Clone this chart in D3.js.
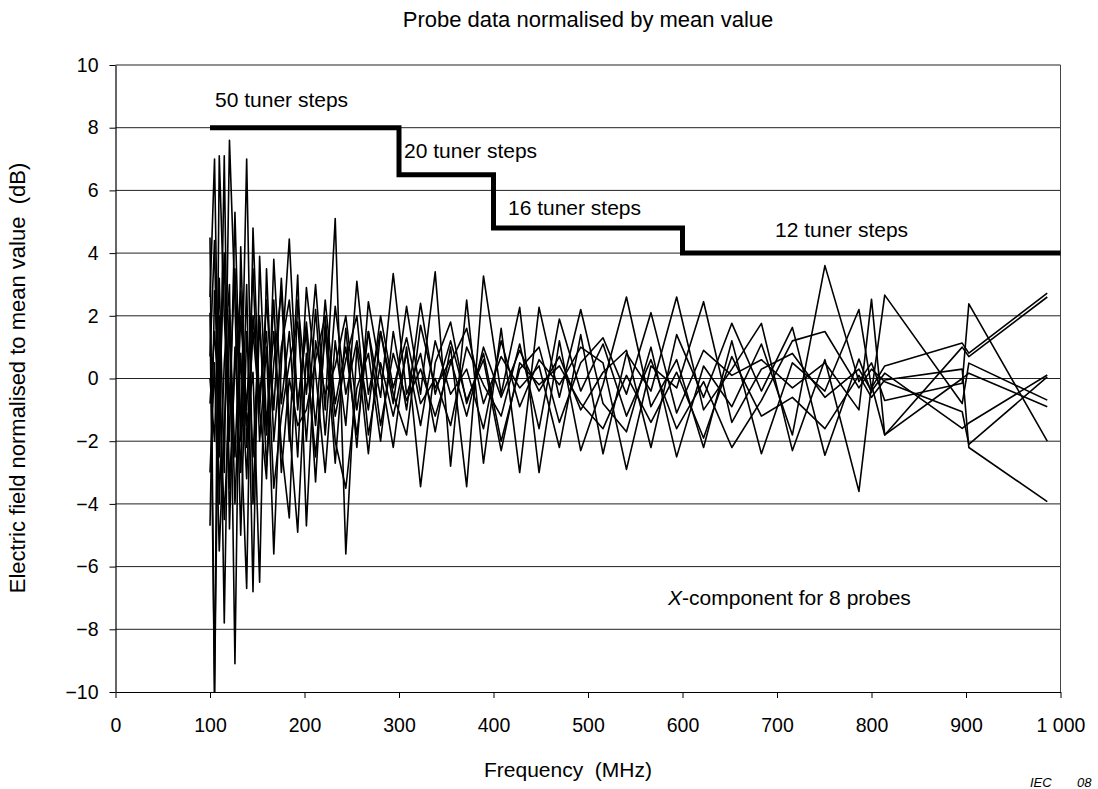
<!DOCTYPE html>
<html>
<head>
<meta charset="utf-8">
<script src="https://cdn.jsdelivr.net/npm/d3@7"></script>
<style>
  body { margin: 0; background: #fff; }
  svg { display: block; }
  text { font-family: "Liberation Sans", Arial, sans-serif; fill: #000; }
</style>
</head>
<body>
<svg id="chart" width="1098" height="789"></svg>
<script>
// Measurement frequencies (MHz), log-spaced above 100 MHz
const frequencies = [
  100, 104.8, 109.8, 115.1, 120.6, 126.4, 132.5, 138.8, 145.5, 152.5,
  159.8, 167.5, 175.5, 183.9, 192.8, 202, 211.7, 221.9, 232.5, 243.7,
  255.4, 267.6, 280.5, 293.9, 308, 322.8, 338.3, 354.6, 371.6, 389.4,
  408.1, 427.7, 448.2, 469.7, 492.3, 515.9, 540.7, 566.6, 593.8, 622.3,
  652.2, 683.5, 716.3, 750.7, 786.7, 800, 814, 896, 903, 986
];

// X-component of the field at each probe, normalised to the mean (dB)
const probe1 = [
  4.5, -10, 2.0, -7.8, 2.0, -2.5, 2.0, -1.0, 3.5, -2.0,
  1.0, -5.6, 0.5, 4.45, -1.0, 1.8, -1.5, 2.5, -0.8, 1.0,
  -1.8, 1.5, -0.6, 3.35, -0.5, 0.8, -1.7, 1.0, -3.45, 3.27,
  -0.5, 2.27, -3.0, 1.2, -2.3, -0.2, 2.6, -0.9, 0.6, -2.2,
  1.2, -2.4, 0.5, -0.4, 2.2, -0.3, 0.4, 1.13, 0.81, 2.72
];
const probe2 = [
  2.6, 7.0, -2.5, 7.1, -4.8, 1.0, -3.0, 3.0, -6.8, 3.9,
  -1.5, 1.5, -2.2, -4.45, 2.5, -0.5, 3.0, -1.0, 5.1, -5.6,
  1.0, -2.4, 1.5, -0.8, 2.3, -0.5, 3.4, -2.8, 2.5, -2.7,
  1.6, -3.0, 2.27, -0.6, 2.2, -0.8, -1.7, 1.0, -2.5, 0.4,
  -0.9, 1.1, -1.8, 3.6, -0.1, 0.5, -0.7, -0.15, 2.38, -2.0
];
const probe3 = [
  2.1, -10, 7.1, 2.0, -2.0, 5.3, -1.5, -6.7, 4.8, -1.0,
  2.5, -1.0, 3.2, -1.5, -4.9, 0.8, -2.5, 1.5, -2.7, 1.6,
  -2.2, 2.45, 0.2, -2.2, 1.0, -3.45, 0.5, 1.8, -0.8, 0.8,
  -2.0, 0.3, 1.0, -1.4, 0.5, 1.3, -0.5, 2.1, -1.1, 0.9,
  0.1, 0.6, -0.3, 0.5, -1.0, 2.53, -1.8, 1.0, 0.7, 2.6
];
const probe4 = [
  0.7, 4.4, -4.0, 0.5, 3.0, -9.1, 4.2, -2.2, 1.5, -1.0,
  -3.2, 3.8, -0.8, 1.5, -2.5, 2.9, 0.2, -3.0, 1.2, -1.5,
  3.1, -0.5, 1.5, -0.5, -1.8, 1.7, -0.3, 0.6, -1.2, 1.0,
  -0.6, 0.9, -0.4, 0.7, -1.0, 0.2, 0.9, -2.2, 1.4, -0.6,
  1.76, -0.4, 1.63, -2.45, 0.62, -0.45, 2.66, -0.8, 0.49, -0.69
];
const probe5 = [
  0.0, -2.0, 3.2, -3.0, 7.6, 2.5, -5.0, 1.5, -2.5, 2.0,
  -2.8, 0.5, 2.8, -2.0, 3.3, -4.7, 1.2, -0.5, 0.4, 2.0,
  -1.0, 1.5, -1.5, 0.8, -0.7, 0.3, -1.2, 0.5, 1.6, -0.8,
  0.7, -0.3, 0.4, -2.2, 1.4, -2.4, 0.8, -0.4, 2.6, -1.0,
  0.3, 1.76, -2.3, 0.6, -3.6, -0.2, -1.8, 0.0, 0.17, -0.9
];
const probe6 = [
  -0.8, 1.5, -1.0, 4.0, -3.5, 0.5, 2.8, -1.5, 0.2, -6.5,
  3.5, -2.0, 1.0, 2.5, -0.8, 1.5, -3.3, 1.8, -1.2, 0.6,
  2.0, -1.8, 0.5, -1.2, 0.8, -1.5, 1.2, -0.5, 0.3, -1.6,
  1.2, -0.9, 0.6, -0.2, 1.0, 0.5, -2.9, 0.4, -0.3, 2.45,
  -1.4, 0.3, 0.8, -0.6, 0.3, -0.4, 0.17, -1.59, -1.42, 0.11
];
const probe7 = [
  -3.0, 0.5, -5.5, -1.5, 2.2, -4.0, 0.8, -3.2, 2.0, -0.5,
  1.5, -3.5, -1.2, 0.5, 1.8, -2.0, 2.2, -1.8, 2.3, -0.5,
  1.2, -1.0, 2.0, -0.3, 1.3, -0.8, 0.0, -1.5, 1.0, -0.2,
  -1.2, 1.1, -1.6, 1.9, -0.4, 1.1, -1.2, 0.6, -1.6, -0.1,
  -2.2, -0.7, 1.2, 1.5, -0.3, 0.3, -0.1, -1.06, -2.1, 0.05
];
const probe8 = [
  -4.7, 2.8, 0.0, -4.5, -0.5, 3.5, -2.0, 7.0, -4.0, 1.8,
  -1.8, 2.5, -3.0, 0.0, -1.5, -1.0, 0.6, 2.0, -2.0, -3.5,
  -0.3, 0.8, -2.0, 1.5, -1.0, 2.4, -0.5, 1.2, -0.7, 0.6,
  -2.3, 0.5, -0.2, 0.4, -0.8, -1.6, 0.1, -1.4, 0.2, -1.9,
  0.7, -1.2, -0.6, -1.6, 0.1, -0.6, -0.05, 0.3, -2.2, -3.93
];

// Tuner-step limit: level applies from each frequency up to the next
const stepFreq = [100, 300, 400, 600, 1000];
const stepLevel = [8, 6.5, 4.8, 4, 4];
const stepLabels = ["50 tuner steps", "20 tuner steps", "16 tuner steps", "12 tuner steps"];

// Axis ticks
const xTicks = [0, 100, 200, 300, 400, 500, 600, 700, 800, 900, 1000];
const xTickLabels = ["0", "100", "200", "300", "400", "500", "600", "700", "800", "900", "1 000"];
const yTicks = [-10, -8, -6, -4, -2, 0, 2, 4, 6, 8, 10];
const yTickLabels = ["\u221210", "\u22128", "\u22126", "\u22124", "\u22122", "0", "2", "4", "6", "8", "10"];

const probes = [probe1, probe2, probe3, probe4, probe5, probe6, probe7, probe8];

const svg = d3.select("#chart");
svg.append("rect").attr("width", 1098).attr("height", 789).attr("fill", "#fff");

const x = d3.scaleLinear().domain([0, 1000]).range([115.5, 1060.5]);
const y = d3.scaleLinear().domain([-10, 10]).range([692, 65]);

const tickFont = 19.5;
const labelFont = 21;
const titleFont = 22;

// Horizontal gridlines
svg.append("g")
  .selectAll("line")
  .data(yTicks.filter(v => v > -10))
  .join("line")
  .attr("x1", x(0)).attr("x2", x(1000))
  .attr("y1", d => y(d)).attr("y2", d => y(d))
  .attr("stroke", "#222").attr("stroke-width", 1);

// Right border of the plot area
svg.append("line")
  .attr("x1", x(1000)).attr("x2", x(1000))
  .attr("y1", y(10)).attr("y2", y(-10))
  .attr("stroke", "#444").attr("stroke-width", 1);

// Axes
const xAxis = d3.axisBottom(x)
  .tickValues(xTicks)
  .tickFormat((d, i) => xTickLabels[i])
  .tickSize(6).tickSizeOuter(0).tickPadding(20);
const gx = svg.append("g").attr("transform", `translate(0,${y(-10)})`).call(xAxis);

const yAxis = d3.axisLeft(y)
  .tickValues(yTicks)
  .tickFormat((d, i) => yTickLabels[i])
  .tickSize(6).tickSizeOuter(0).tickPadding(11);
const gy = svg.append("g").attr("transform", `translate(${x(0)},0)`).call(yAxis);

[gx, gy].forEach(g => {
  g.select(".domain").attr("stroke", "#000").attr("stroke-width", 1.2);
  g.selectAll(".tick line").attr("stroke", "#000").attr("stroke-width", 1);
  g.selectAll(".tick text")
    .attr("font-family", '"Liberation Sans", Arial, sans-serif')
    .attr("font-size", tickFont).attr("fill", "#000");
});

// Probe traces
const probeLine = d3.line()
  .x((d, i) => x(frequencies[i]))
  .y(d => y(d));

svg.append("g")
  .selectAll("path")
  .data(probes)
  .join("path")
  .attr("d", probeLine)
  .attr("fill", "none")
  .attr("stroke", "#000")
  .attr("stroke-width", 1.6)
  .attr("stroke-linejoin", "round");

// Tuner-step limit line
const stepLine = d3.line()
  .x((d, i) => x(stepFreq[i]))
  .y(d => y(d))
  .curve(d3.curveStepAfter);

svg.append("path")
  .datum(stepLevel)
  .attr("d", stepLine)
  .attr("fill", "none")
  .attr("stroke", "#000")
  .attr("stroke-width", 5)
  .attr("stroke-linejoin", "miter");

// Step annotations (frequency, dB of text baseline)
const stepLabelAt = [[105.3, 8.66], [305.3, 7.03], [415.3, 5.22], [697.9, 4.51]];
svg.append("g")
  .selectAll("text")
  .data(stepLabels)
  .join("text")
  .attr("x", (d, i) => x(stepLabelAt[i][0]))
  .attr("y", (d, i) => y(stepLabelAt[i][1]))
  .attr("font-size", labelFont)
  .text(d => d);

// Component note
const note = svg.append("text")
  .attr("x", x(584.7)).attr("y", y(-7.22))
  .attr("font-size", labelFont);
note.append("tspan").attr("font-style", "italic").text("X");
note.append("tspan").text("-component for 8 probes");

// Title and axis titles
svg.append("text")
  .attr("x", 588).attr("y", 27)
  .attr("text-anchor", "middle")
  .attr("font-size", titleFont)
  .text("Probe data normalised by mean value");

svg.append("text")
  .attr("x", 568).attr("y", 777)
  .attr("text-anchor", "middle")
  .attr("font-size", labelFont)
  .style("white-space", "pre")
  .text("Frequency  (MHz)");

svg.append("text")
  .attr("transform", "translate(25,378) rotate(-90)")
  .attr("text-anchor", "middle")
  .attr("font-size", titleFont)
  .style("white-space", "pre")
  .text("Electric field normalised to mean value  (dB)");

// Figure reference
svg.append("text")
  .attr("x", 1030).attr("y", 787)
  .attr("font-size", 13).attr("font-style", "italic")
  .text("IEC");
svg.append("text")
  .attr("x", 1077).attr("y", 787)
  .attr("font-size", 13).attr("font-style", "italic")
  .text("08");
</script>
</body>
</html>
